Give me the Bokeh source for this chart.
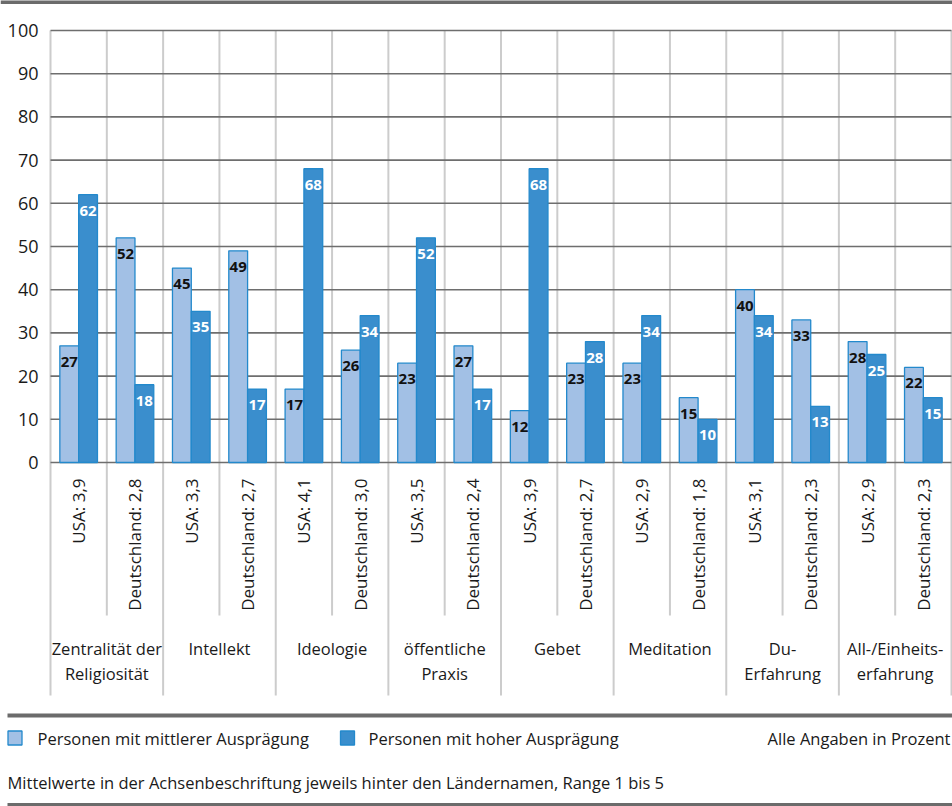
from math import pi
from bokeh.plotting import figure
from bokeh.models import Range1d, FixedTicker, ColumnDataSource
from bokeh.transform import dodge
from bokeh.core.properties import value
from bokeh.embed import file_html
from bokeh.resources import INLINE

# ---------------- data ----------------
groups_line1 = ["Zentralität der", "Intellekt", "Ideologie", "öffentliche",
                "Gebet", "Meditation", "Du-", "All-/Einheits-"]
groups_line2 = ["Religiosität", "", "", "Praxis", "", "", "Erfahrung", "erfahrung"]
countries = ["USA", "Deutschland"]
usa_means = ["3,9", "3,3", "4,1", "3,5", "3,9", "2,9", "3,1", "2,9"]
de_means = ["2,8", "2,7", "3,0", "2,4", "2,7", "1,8", "2,3", "2,3"]
# order: for each group USA then Deutschland
mittel = [27, 52, 45, 49, 17, 26, 23, 27, 12, 23, 23, 15, 40, 33, 28, 22]
hoch = [62, 18, 35, 17, 68, 34, 52, 17, 68, 28, 34, 10, 34, 13, 25, 15]
series_names = ["Personen mit mittlerer Ausprägung", "Personen mit hoher Ausprägung"]
y_ticks = [0, 10, 20, 30, 40, 50, 60, 70, 80, 90, 100]
note_right = "Alle Angaben in Prozent"
footnote = "Mittelwerte in der Achsenbeschriftung jeweils hinter den Ländernamen, Range 1 bis 5"

# ---------------- style ----------------
FONT_NAME = "Open Sans"
FONT = value(FONT_NAME)
LIGHT = "#a2c0e5"
DARK = "#3a8ecd"
EDGE = "#2389cc"
GRID_H = "#6e6e6e"
GRID_V = "#cccccc"
RULE = "#6b6b6b"
TXT = "#1a1a1a"

W, H = 952, 806
PL, PR = 50, 951         # canvas x of slot boundary 0 and 16
Y0, PX = 462, 4.32       # canvas y of value 0, pixels per percentage point
n = len(mittel)
SLOT = (PR - PL) / n


def xv(cx):
    return (cx - PL) / SLOT


def yv(cy):
    return (Y0 - cy) / PX


sub_labels = []
for um, dm in zip(usa_means, de_means):
    sub_labels.append(f"{countries[0]}: {um}")
    sub_labels.append(f"{countries[1]}: {dm}")

src = ColumnDataSource(dict(
    xc=[i + 0.5 for i in range(n)],
    sub=sub_labels,
    mittel=mittel,
    hoch=hoch,
    mittel_txt=[str(v) for v in mittel],
    hoch_txt=[str(v) for v in hoch],
    mittel_ly=[v - 16 / PX for v in mittel],
    hoch_ly=[v - 16 / PX for v in hoch],
))

p = figure(width=W, height=H, output_backend="svg", toolbar_location=None, title=None,
           x_range=Range1d(xv(0), xv(W)),
           y_range=Range1d(yv(H), yv(0)),
           x_axis_location=None, y_axis_location="left",
           min_border=0, outline_line_color=None)
p.grid.visible = False

ax = p.yaxis[0]
ax.fixed_location = 0
ax.ticker = FixedTicker(ticks=y_ticks)
ax.axis_line_color = None
ax.major_tick_line_color = None
ax.major_tick_out = 0
ax.major_tick_in = 0
ax.minor_tick_line_color = None
ax.major_label_standoff = 12
ax.major_label_text_font = FONT_NAME
ax.major_label_text_font_size = "18px"
ax.major_label_text_color = TXT

# header rule
p.segment(x0=[xv(0)], y0=[yv(1.5)], x1=[xv(W)], y1=[yv(1.5)], line_color=RULE, line_width=4)

# vertical separators (slot boundaries), longer ones between groups
xs_group = [i for i in range(n + 1) if i % 2 == 0]
xs_sub = [i for i in range(n + 1) if i % 2 == 1]
p.segment(x0=xs_group, y0=[100] * len(xs_group), x1=xs_group, y1=[yv(695)] * len(xs_group),
          line_color=GRID_V, line_width=2)
p.segment(x0=xs_sub, y0=[100] * len(xs_sub), x1=xs_sub, y1=[yv(615)] * len(xs_sub),
          line_color=GRID_V, line_width=2)

# horizontal grid lines
p.segment(x0=[0] * len(y_ticks), y0=y_ticks, x1=[n] * len(y_ticks), y1=y_ticks,
          line_color=GRID_H, line_width=1.6)

OFF = 0.167
BW = 0.334
p.vbar(x=dodge("xc", -OFF), top="mittel", width=BW, source=src,
       fill_color=LIGHT, line_color=EDGE, line_width=1.3)
p.vbar(x=dodge("xc", OFF), top="hoch", width=BW, source=src,
       fill_color=DARK, line_color=EDGE, line_width=1.3)

p.text(x=dodge("xc", -OFF), y="mittel_ly", text="mittel_txt", source=src,
       text_font=FONT, text_font_style="bold", text_font_size="15px", text_color="#111111",
       text_align="center", text_baseline="middle")
p.text(x=dodge("xc", OFF), y="hoch_ly", text="hoch_txt", source=src,
       text_font=FONT, text_font_style="bold", text_font_size="15px", text_color="#ffffff",
       text_align="center", text_baseline="middle")

# country / mean labels (rotated)
p.text(x="xc", y=yv(478), text="sub", source=src, angle=pi / 2,
       text_font=FONT, text_font_size="17px", text_color=TXT,
       text_align="right", text_baseline="middle")

# group labels
gx = [2 * g + 1 for g in range(len(groups_line1))]
p.text(x=gx, y=[yv(648)] * len(gx), text=groups_line1,
       text_font=FONT, text_font_size="16.5px", text_color=TXT,
       text_align="center", text_baseline="middle")
p.text(x=gx, y=[yv(673)] * len(gx), text=groups_line2,
       text_font=FONT, text_font_size="16.5px", text_color=TXT,
       text_align="center", text_baseline="middle")

# ---------------- footer ----------------
x_left, x_right = xv(7), xv(W)
p.segment(x0=[x_left], y0=[yv(715)], x1=[x_right], y1=[yv(715)], line_color=RULE, line_width=4)
p.rect(x=[xv(14.5), xv(347)], y=[yv(737.5)] * 2, width=14, height=14, width_units="screen",
       height_units="screen", fill_color=[LIGHT, DARK], line_color=EDGE, line_width=1.3)
p.text(x=[xv(37), xv(368)], y=[yv(737.5)] * 2, text=series_names, text_font=FONT,
       text_font_size="16.5px", text_color=TXT, text_align="left", text_baseline="middle")
p.text(x=[xv(950)], y=[yv(737.5)], text=[note_right], text_font=FONT,
       text_font_size="16.5px", text_color=TXT, text_align="right", text_baseline="middle")
p.text(x=[xv(7)], y=[yv(781.5)], text=[footnote], text_font=FONT,
       text_font_size="16.5px", text_color=TXT, text_align="left", text_baseline="middle")
p.segment(x0=[x_left], y0=[yv(804)], x1=[x_right], y1=[yv(804)], line_color=RULE,
          line_width=3)

open("out.html", "w").write(file_html(p, INLINE))
